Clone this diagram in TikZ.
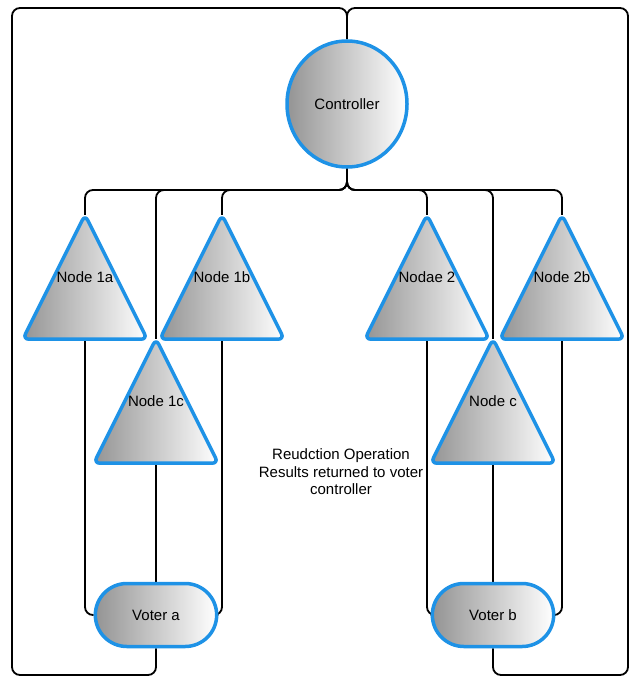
\documentclass[tikz,border=0pt]{standalone}
\usepackage{fontspec}
\setmainfont{Liberation Sans}
\usetikzlibrary{positioning, shapes.geometric, shapes.misc, backgrounds}
\definecolor{nodeblue}{RGB}{30,146,230}

\begin{document}
\begin{tikzpicture}[
    x=1pt, y=-1pt,
    font=\fontsize{15}{17.5}\selectfont,
    grayfill/.style={left color=black!42, middle color=black!14, right color=white},
    ctrl/.style={ellipse, draw=nodeblue, line width=3.5pt, grayfill, minimum width=120pt, minimum height=126pt, inner sep=0pt},
    voter/.style={rounded rectangle, draw=nodeblue, line width=3.5pt, grayfill, minimum width=128pt, minimum height=63pt},
    tribox/.style={rectangle, minimum width=124pt, minimum height=124pt, inner sep=0pt},
    trishape/.style={draw=nodeblue, line width=3.5pt, grayfill, rounded corners=6pt, line join=round},
    wire/.style={line width=1.8pt, black, rounded corners=8pt}
]
    \useasboundingbox (0,0) rectangle (634,679);

    % --- Controller and voters ---
    \node[ctrl]  (ctrl) at (347,104) {Controller};
    \node[voter] (vota) at (156,615) {Voter a};
    \node[voter] (votb) at (493,615) {Voter b};

    % --- Group 1 (left) ---
    \node[tribox] (n1a) at (85,277)  {Node 1a};
    \node[tribox] (n1b) at (222,277) {Node 1b};
    \node[tribox] (n1c) at (156,401) {Node 1c};

    % --- Group 2 (right) ---
    \node[tribox] (n2a) at (427,277) {Nodae 2};
    \node[tribox] (n2b) at (562,277) {Node 2b};
    \node[tribox] (n2c) at (493,401) {Node c};

    \node[align=center] (note) at (341,472) {Reudction Operation\\Results returned to voter\\controller};

    % --- Frame and bus corners ---
    \coordinate (ftop) at (347,8);
    \coordinate (fl)   at (12,675);
    \coordinate (fr)   at (628,675);
    \coordinate (bus)  at (347,190);

    \begin{pgfonlayer}{background}
    % --- Return frame: voters back to controller ---
    \draw[wire] (ctrl.north) -- (ftop) -| (fl) -| (vota.south);
    \draw[wire] (ctrl.north) -- (ftop) -| (fr) -| (votb.south);

    % --- Bus: controller to nodes ---
    \draw[wire] (ctrl.south) -- (bus) -| (n1a.north);
    \draw[wire] (ctrl.south) -- (bus) -| (n1c.north);
    \draw[wire] (ctrl.south) -- (bus) -| (n1b.north);
    \draw[wire] (ctrl.south) -- (bus) -| (n2a.north);
    \draw[wire] (ctrl.south) -- (bus) -| (n2c.north);
    \draw[wire] (ctrl.south) -- (bus) -| (n2b.north);

    % --- Nodes to voters ---
    \draw[wire] (n1a.south) |- (vota.west);
    \draw[wire] (n1b.south) |- (vota.east);
    \draw[wire] (n1c.south) -- (vota.north);
    \draw[wire] (n2a.south) |- (votb.west);
    \draw[wire] (n2b.south) |- (votb.east);
    \draw[wire] (n2c.south) -- (votb.north);

    % --- Triangles ---
    \foreach \n in {n1a,n1b,n1c,n2a,n2b,n2c}
        \path[trishape] (\n.north) -- (\n.south west) -- (\n.south east) -- cycle;
    \end{pgfonlayer}

\end{tikzpicture}
\end{document}
